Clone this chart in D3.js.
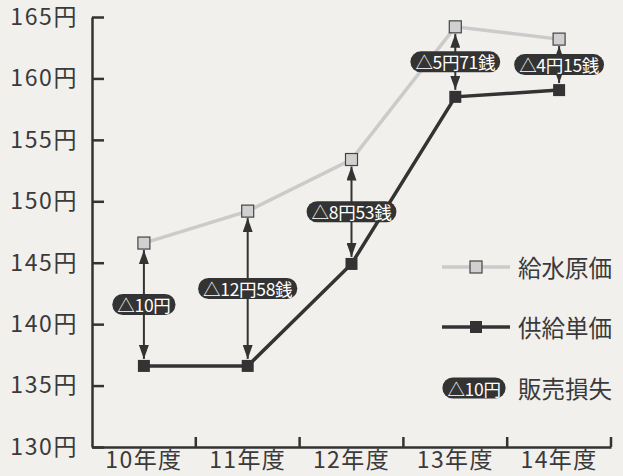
<!DOCTYPE html>
<html>
<head>
<meta charset="utf-8">
<script src="https://cdn.jsdelivr.net/npm/d3@7"></script>
<style>
  body { margin: 0; background: #f1f0ed; }
  svg { display: block; }
  text { font-family: "Noto Sans CJK JP", "Noto Sans", sans-serif; }
</style>
</head>
<body>
<svg id="chart"></svg>
<script>
// data
const years = ["10年度", "11年度", "12年度", "13年度", "14年度"];
const genka = [146.6, 149.2, 153.4, 164.2, 163.2];   // 給水原価
const tanka = [136.6, 136.6, 144.9, 158.5, 159.05];  // 供給単価
const lossLabels = ["△10円", "△12円58銭", "△8円53銭", "△5円71銭", "△4円15銭"];
const yTicks = [130, 135, 140, 145, 150, 155, 160, 165];

const width = 623, height = 476;
const margin = {top: 17, right: 12, bottom: 29, left: 92};
const dark = "#333";

const svg = d3.select("#chart")
    .attr("width", width)
    .attr("height", height);

const x = d3.scaleBand()
    .domain(years)
    .range([margin.left, width - margin.right]);

const y = d3.scaleLinear()
    .domain([130, 165])
    .range([height - margin.bottom, margin.top]);

const xc = d => x(d) + x.bandwidth() / 2;

// y axis
const yAxis = d3.axisLeft(y)
    .tickValues(yTicks)
    .tickFormat(d => d + "円")
    .tickSizeInner(-12)
    .tickSizeOuter(0)
    .tickPadding(14);

const gy = svg.append("g")
    .attr("transform", `translate(${margin.left},0)`)
    .call(yAxis);
gy.select(".domain").attr("stroke", dark).attr("stroke-width", 2.5);
gy.selectAll(".tick line").attr("stroke", dark).attr("stroke-width", 2.5);
gy.selectAll(".tick text")
    .attr("fill", "#3a3a3a")
    .attr("font-size", 23)
    .attr("letter-spacing", 1.6)
    .attr("font-family", "\"Noto Sans CJK JP\", sans-serif");

// x axis: labels at band centres, ticks at band edges
const xAxis = d3.axisBottom(x).tickSize(0).tickPadding(5);
const gx = svg.append("g")
    .attr("transform", `translate(0,${y(130)})`)
    .call(xAxis);
gx.select(".domain").attr("stroke", dark).attr("stroke-width", 2.5);
gx.selectAll(".tick text")
    .attr("fill", "#3a3a3a")
    .attr("font-size", 23)
    .attr("letter-spacing", 1.4)
    .attr("font-family", "\"Noto Sans CJK JP\", sans-serif");

gx.selectAll(".edge")
    .data(years)
    .join("line")
    .attr("x1", d => x(d) + x.bandwidth())
    .attr("x2", d => x(d) + x.bandwidth())
    .attr("y1", 0)
    .attr("y2", -10)
    .attr("stroke", dark)
    .attr("stroke-width", 2.5);

// lines
const line = d3.line()
    .x((d, i) => xc(years[i]))
    .y(d => y(d));

svg.append("path")
    .datum(genka)
    .attr("d", line)
    .attr("fill", "none")
    .attr("stroke", "#cbcbcb")
    .attr("stroke-width", 3.5);

svg.append("path")
    .datum(tanka)
    .attr("d", line)
    .attr("fill", "none")
    .attr("stroke", dark)
    .attr("stroke-width", 3.5);

// arrows between the two series
const defs = svg.append("defs");
defs.append("marker")
    .attr("id", "head")
    .attr("viewBox", "0 0 14 10")
    .attr("refX", 14)
    .attr("refY", 5)
    .attr("markerWidth", 14)
    .attr("markerHeight", 10)
    .attr("markerUnits", "userSpaceOnUse")
    .attr("orient", "auto-start-reverse")
    .append("path")
    .attr("d", "M0,0L14,5L0,10Z")
    .attr("fill", dark);

svg.selectAll(".arrow")
    .data(years)
    .join("line")
    .attr("class", "arrow")
    .attr("x1", d => xc(d))
    .attr("x2", d => xc(d))
    .attr("y1", (d, i) => y(genka[i]) + 7)
    .attr("y2", (d, i) => y(tanka[i]) - 7)
    .attr("stroke", dark)
    .attr("stroke-width", 2)
    .attr("marker-start", "url(#head)")
    .attr("marker-end", "url(#head)");

// markers
const sq = 12;
svg.selectAll(".mg")
    .data(genka)
    .join("rect")
    .attr("x", (d, i) => xc(years[i]) - sq / 2)
    .attr("y", d => y(d) - sq / 2)
    .attr("width", sq)
    .attr("height", sq)
    .attr("fill", "#d0d0d0")
    .attr("stroke", "#444")
    .attr("stroke-width", 1.2);

svg.selectAll(".mt")
    .data(tanka)
    .join("rect")
    .attr("x", (d, i) => xc(years[i]) - sq / 2)
    .attr("y", d => y(d) - sq / 2)
    .attr("width", sq)
    .attr("height", sq)
    .attr("fill", dark);

// pill labels
function pill(g, label, cx, cy, fs) {
  const t = g.append("text")
      .attr("x", cx)
      .attr("y", cy)
      .attr("text-anchor", "middle")
      .attr("dominant-baseline", "central")
      .attr("fill", "#fff")
      .attr("font-size", fs)
      .attr("letter-spacing", -0.3)
      .text(label);
  const w = t.node().getComputedTextLength() + 10;
  const h = 21;
  g.insert("rect", "text")
      .attr("x", cx - w / 2)
      .attr("y", cy - h / 2)
      .attr("width", w)
      .attr("height", h)
      .attr("rx", h / 2)
      .attr("fill", dark);
}

years.forEach((d, i) => {
  const g = svg.append("g");
  pill(g, lossLabels[i], xc(d), (y(genka[i]) + y(tanka[i])) / 2, 17.5);
});

// legend
const lg = svg.append("g");
lg.append("line").attr("x1", 442).attr("x2", 510).attr("y1", 267).attr("y2", 267)
    .attr("stroke", "#cbcbcb").attr("stroke-width", 3.5);
lg.append("rect").attr("x", 476 - sq / 2).attr("y", 267 - sq / 2)
    .attr("width", sq).attr("height", sq)
    .attr("fill", "#d0d0d0").attr("stroke", "#444").attr("stroke-width", 1.2);
lg.append("text").attr("x", 518).attr("y", 267).attr("dominant-baseline", "central")
    .attr("font-size", 23.5).attr("fill", "#3a3a3a").text("給水原価");

lg.append("line").attr("x1", 442).attr("x2", 510).attr("y1", 327).attr("y2", 327)
    .attr("stroke", dark).attr("stroke-width", 3.5);
lg.append("rect").attr("x", 476 - sq / 2).attr("y", 327 - sq / 2)
    .attr("width", sq).attr("height", sq).attr("fill", dark);
lg.append("text").attr("x", 518).attr("y", 327).attr("dominant-baseline", "central")
    .attr("font-size", 23.5).attr("fill", "#3a3a3a").text("供給単価");

pill(lg.append("g"), lossLabels[0], 474, 388, 17.5);
lg.append("text").attr("x", 518).attr("y", 388).attr("dominant-baseline", "central")
    .attr("font-size", 23.5).attr("fill", "#3a3a3a").text("販売損失");
</script>
</body>
</html>
